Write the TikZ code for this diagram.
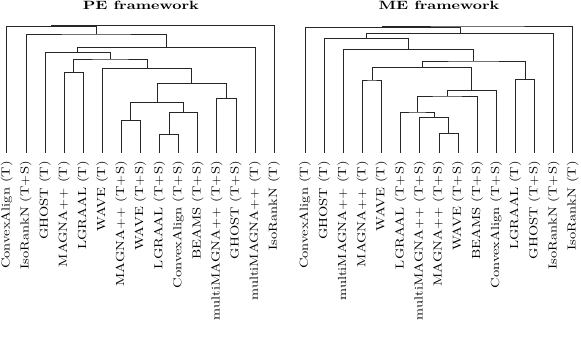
\documentclass[tikz,border=0pt]{standalone}
\usepackage{graphicx}
\tikzset{
  link/.style={draw=black!85, line width=0.55pt},
  leaflabel/.style={rotate=90, anchor=east, inner sep=0pt},
  ttl/.style={anchor=base, inner sep=0pt},
}
\newcommand{\lbl}[1]{\scalebox{1.45}[1.17]{#1}}
\newcommand{\ttltext}[1]{\scalebox{1.6}[1.2]{\bfseries #1}}
\begin{document}
\begin{tikzpicture}[x=1pt,y=-1pt]
\useasboundingbox (0,0) rectangle (581,339);
% titles
\node[ttl] (tpe) at (140.8,10) {\ttltext{PE framework}};
\node[ttl] (tme) at (439,10) {\ttltext{ME framework}};
% ---------- PE tree ----------
\def\lb{153}
\foreach \i/\x/\t in {1/6.7/ConvexAlign (T),2/25.8/IsoRankN (T+S),3/44.9/GHOST (T),4/64.0/MAGNA++ (T),5/83.1/LGRAAL (T),6/102.2/WAVE (T),7/121.2/MAGNA++ (T+S),8/140.3/WAVE (T+S),9/159.4/LGRAAL (T+S),10/178.5/ConvexAlign (T+S),11/197.6/BEAMS (T+S),12/216.7/multiMAGNA++ (T+S),13/235.8/GHOST (T+S),14/254.9/multiMAGNA++ (T),15/274.0/IsoRankN (T)}{
  \coordinate (p\i) at (\x,\lb);
  \node[leaflabel] (pl\i) at (\x,161) {\lbl{\t}};
}
\coordinate (pL) at (168.95,134.7);
\coordinate (pK) at (183.3,112.7);
\coordinate (pJ) at (130.75,120.7);
\coordinate (pH) at (157.0,102.7);
\coordinate (pI) at (226.25,98.7);
\coordinate (pG) at (191.6,83.3);
\coordinate (pF) at (146.9,68.3);
\coordinate (pE) at (73.55,72.7);
\coordinate (pD) at (110.2,59);
\coordinate (pC) at (77.55,52.5);
\coordinate (pB) at (166.2,47.3);
\coordinate (pA) at (96.0,34);
\coordinate (pM) at (51.35,26.7);
\coordinate (pR) at (162.7,25.7);
\draw[link] (p9) |- (pL) -| (p10);
\draw[link] (pL) |- (pK) -| (p11);
\draw[link] (p7) |- (pJ) -| (p8);
\draw[link] (pJ) |- (pH) -| (pK);
\draw[link] (p12) |- (pI) -| (p13);
\draw[link] (pH) |- (pG) -| (pI);
\draw[link] (p6) |- (pF) -| (pG);
\draw[link] (p4) |- (pE) -| (p5);
\draw[link] (pE) |- (pD) -| (pF);
\draw[link] (p3) |- (pC) -| (pD);
\draw[link] (pC) |- (pB) -| (p14);
\draw[link] (p2) |- (pA) -| (pB);
\draw[link] (p1) |- (pM) -| (pA);
\draw[link] (pM) |- (pR) -| (p15);
% ---------- ME tree ----------
\foreach \i/\x/\t in {1/305.0/ConvexAlign (T),2/324.1/GHOST (T),3/343.2/multiMAGNA++ (T),4/362.4/MAGNA++ (T),5/381.5/WAVE (T),6/400.6/LGRAAL (T+S),7/419.7/multiMAGNA++ (T+S),8/438.8/MAGNA++ (T+S),9/458.0/WAVE (T+S),10/477.1/BEAMS (T+S),11/496.2/ConvexAlign (T+S),12/515.3/LGRAAL (T),13/534.4/GHOST (T+S),14/553.6/IsoRankN (T+S),15/572.7/IsoRankN (T)}{
  \coordinate (m\i) at (\x,\lb);
  \node[leaflabel] (ml\i) at (\x,161) {\lbl{\t}};
}
\coordinate (mY) at (448.4,133.3);
\coordinate (mX) at (434.05,117.3);
\coordinate (mW) at (417.3,112);
\coordinate (mV) at (447.2,96);
\coordinate (mU) at (471.7,90.3);
\coordinate (mT) at (371.95,80);
\coordinate (mR) at (421.8,67.7);
\coordinate (mS) at (524.85,79.3);
\coordinate (mQ) at (473.3,61);
\coordinate (mP) at (408.25,49.7);
\coordinate (mO) at (366.2,38.3);
\coordinate (mN) at (459.9,33.5);
\coordinate (mM) at (382.45,27.3);
\coordinate (mRt) at (477.6,26);
\draw[link] (m8) |- (mY) -| (m9);
\draw[link] (m7) |- (mX) -| (mY);
\draw[link] (m6) |- (mW) -| (mX);
\draw[link] (mW) |- (mV) -| (m10);
\draw[link] (mV) |- (mU) -| (m11);
\draw[link] (m4) |- (mT) -| (m5);
\draw[link] (mT) |- (mR) -| (mU);
\draw[link] (m12) |- (mS) -| (m13);
\draw[link] (mR) |- (mQ) -| (mS);
\draw[link] (m3) |- (mP) -| (mQ);
\draw[link] (m2) |- (mO) -| (mP);
\draw[link] (mO) |- (mN) -| (m14);
\draw[link] (m1) |- (mM) -| (mN);
\draw[link] (mM) |- (mRt) -| (m15);
\end{tikzpicture}
\end{document}
